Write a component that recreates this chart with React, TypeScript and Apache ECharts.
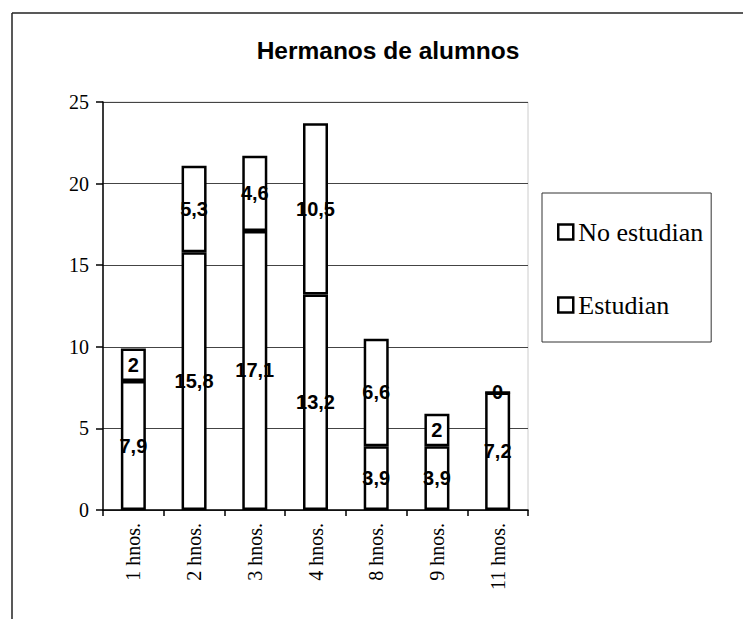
import React, { useEffect, useRef } from "react";
import * as echarts from "echarts";

const categories = ["1 hnos.", "2 hnos.", "3 hnos.", "4 hnos.", "8 hnos.", "9 hnos.", "11 hnos."];
const estudian = [7.9, 15.8, 17.1, 13.2, 3.9, 3.9, 7.2];
const noEstudian = [2, 5.3, 4.6, 10.5, 6.6, 2, 0];
const yTicks = [0, 5, 10, 15, 20, 25];

const fmt = (p: any) => String(p.value).replace(".", ",");

export default function App() {
  const ref = useRef<HTMLDivElement>(null);
  useEffect(() => {
    if (!ref.current) return;
    const chart = echarts.init(ref.current, null, { renderer: "svg" });
    const barStyle = { color: "#ffffff", borderColor: "#000000", borderWidth: 2.5 };
    const label = {
      show: true,
      position: "inside" as const,
      formatter: fmt,
      color: "#000",
      fontFamily: "Liberation Sans, Arial, sans-serif",
      fontWeight: "bold" as const,
      fontSize: 20,
    };
    chart.setOption({
      animation: false,
      backgroundColor: "#ffffff",
      title: {
        text: "Hermanos de alumnos",
        left: 383,
        textAlign: "center",
        top: 33,
        textStyle: {
          fontFamily: "Liberation Sans, Arial, sans-serif",
          fontWeight: "bold",
          fontSize: 24.5,
          color: "#000",
        },
      },
      legend: {
        orient: "vertical",
        left: 542,
        top: 193,
        data: ["No estudian", "Estudian"],
        icon: "rect",
        itemWidth: 15,
        itemHeight: 15,
        itemGap: 47,
        padding: [26, 8, 24, 15],
        backgroundColor: "#fff",
        borderColor: "#333",
        borderWidth: 1,
        textStyle: { fontFamily: "Liberation Serif, Times New Roman, serif", fontSize: 26, color: "#000" },
        itemStyle: { color: "#fff", borderColor: "#000", borderWidth: 2.5 },
      },
      grid: { left: 103, top: 102, right: 215, bottom: 109, containLabel: false, show: true, borderColor: "#ccc", borderWidth: 1 },
      xAxis: {
        type: "category",
        data: categories,
        axisLine: { lineStyle: { color: "#000", width: 1.5 } },
        axisTick: { show: true, alignWithLabel: false, length: 6, lineStyle: { color: "#000", width: 1.5 } },
        axisLabel: {
          rotate: 90,
          margin: 13,
          fontFamily: "Liberation Serif, Times New Roman, serif",
          fontSize: 20,
          color: "#000",
        },
      },
      yAxis: {
        type: "value",
        min: 0,
        max: 25,
        interval: 5,
        axisLine: { show: true, lineStyle: { color: "#000", width: 1.5 } },
        axisTick: { show: true, length: 7, lineStyle: { color: "#000", width: 1.5 } },
        splitLine: { show: true, lineStyle: { color: "#444", width: 1 } },
        axisLabel: {
          margin: 14,
          fontFamily: "Liberation Serif, Times New Roman, serif",
          fontSize: 20,
          color: "#000",
          formatter: (v: number) => (yTicks.includes(v) ? String(v) : ""),
        },
      },
      series: [
        {
          name: "Estudian",
          type: "bar",
          stack: "a",
          data: estudian,
          barWidth: 25,
          itemStyle: barStyle,
          label,
        },
        {
          name: "No estudian",
          type: "bar",
          stack: "a",
          data: noEstudian,
          barWidth: 25,
          itemStyle: barStyle,
          label,
        },
      ],
      graphic: [
        { type: "line", shape: { x1: 12, y1: 13, x2: 743, y2: 13 }, style: { stroke: "#222", lineWidth: 1.5 } },
        { type: "line", shape: { x1: 12, y1: 13, x2: 12, y2: 619 }, style: { stroke: "#222", lineWidth: 1.5 } },
      ],
    });
    return () => chart.dispose();
  }, []);
  return <div ref={ref} style={{ width: 743, height: 619, position: "absolute", left: 0, top: 0 }} />;
}
